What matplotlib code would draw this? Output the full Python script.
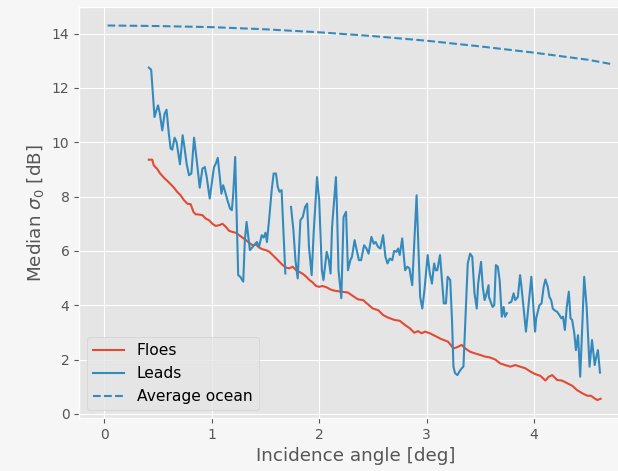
import numpy as np
from matplotlib import pyplot as plt

plt.style.use('ggplot')

# angles d'incidence [deg] et sigma0 median [dB]
floes_x = [0.414, 0.446, 0.46, 0.49, 0.52, 0.554, 0.586, 0.617, 0.648, 0.679,
           0.71, 0.741, 0.773, 0.804, 0.829, 0.85, 0.882, 0.913, 0.944, 0.975,
           1.006, 1.037, 1.07, 1.10, 1.13, 1.162, 1.193, 1.224, 1.255, 1.287,
           1.318, 1.349, 1.38, 1.41, 1.443, 1.474, 1.505, 1.536, 1.567, 1.60,
           1.63, 1.66, 1.69, 1.72, 1.754, 1.785, 1.816, 1.85, 1.88, 1.91,
           1.94, 1.97, 2.0, 2.03, 2.07, 2.106, 2.14, 2.206, 2.268, 2.315,
           2.36, 2.41, 2.455, 2.50, 2.55, 2.595, 2.64, 2.70, 2.75, 2.80,
           2.845, 2.885, 2.92, 2.953, 2.985, 3.03, 3.08, 3.134, 3.20, 3.25,
           3.28, 3.327, 3.36, 3.405, 3.45, 3.50, 3.545, 3.59, 3.64, 3.685,
           3.73, 3.78, 3.825, 3.87, 3.92, 3.966, 4.01, 4.06, 4.106, 4.137,
           4.17, 4.215, 4.26, 4.31, 4.355, 4.40, 4.45, 4.495, 4.53, 4.56,
           4.59, 4.62]
floes_y = [9.36, 9.36, 9.15, 9.03, 8.85, 8.70, 8.58, 8.46, 8.33, 8.17,
           8.05, 7.87, 7.74, 7.72, 7.44, 7.35, 7.34, 7.32, 7.19, 7.13,
           7.00, 6.92, 6.95, 7.00, 6.89, 6.74, 6.70, 6.67, 6.58, 6.49,
           6.40, 6.30, 6.21, 6.24, 6.12, 6.06, 6.03, 5.97, 5.85, 5.72,
           5.60, 5.48, 5.39, 5.36, 5.42, 5.29, 5.23, 5.15, 5.05, 4.93,
           4.84, 4.71, 4.68, 4.71, 4.66, 4.58, 4.54, 4.50, 4.47, 4.34,
           4.22, 4.19, 4.03, 3.88, 3.82, 3.64, 3.55, 3.46, 3.43, 3.27,
           3.15, 2.99, 3.05, 2.97, 3.03, 2.97, 2.87, 2.76, 2.66, 2.41,
           2.45, 2.54, 2.41, 2.29, 2.23, 2.17, 2.11, 2.08, 2.00, 1.86,
           1.80, 1.74, 1.80, 1.74, 1.68, 1.56, 1.47, 1.40, 1.23, 1.37,
           1.43, 1.25, 1.23, 1.13, 1.04, 0.88, 0.76, 0.67, 0.67, 0.58,
           0.51, 0.56]

nan = np.nan
leads_x = [0.414, 0.436, 0.467, 0.485, 0.50, 0.517, 0.539, 0.561, 0.579, 0.60,
           0.617, 0.632, 0.654, 0.673, 0.704, 0.729, 0.745, 0.766, 0.788, 0.81,
           0.835, 0.86, 0.888, 0.913, 0.935, 0.953, 0.981, 1.0, 1.021, 1.037,
           1.056, 1.075, 1.09, 1.106, 1.12, 1.146, 1.17, 1.187, 1.20, 1.218,
           1.246, 1.265, 1.293, 1.308, 1.324, 1.34, 1.355, 1.38, 1.40, 1.42,
           1.44, 1.465, 1.483, 1.50, 1.514, 1.536, 1.558, 1.576, 1.598, 1.614,
           1.63, 1.65, 1.668, 1.685, 1.71, 1.738, 1.76, 1.779, 1.80, 1.825,
           1.847, 1.869, 1.888, 1.905, 1.93, 1.95, 1.98, 2.0, 2.025, 2.04,
           2.07, 2.09, 2.106, 2.12, 2.156, 2.166, 2.18, 2.206, 2.227, 2.25,
           2.268, 2.29, 2.305, 2.33, 2.346, 2.37, 2.39, 2.418, 2.44, 2.46,
           2.486, 2.508, 2.526, 2.548, 2.57, 2.595, 2.617, 2.636, 2.657, 2.68,
           2.698, 2.72, 2.735, 2.75, 2.773, 2.80, 2.82, 2.84, 2.866, 2.907,
           2.94, 2.96, 2.98, 3.01, 3.03, 3.05, 3.07, 3.085, 3.10, 3.125,
           3.16, 3.18, 3.196, 3.22, 3.237, 3.25, 3.265, 3.287, 3.305, 3.327,
           3.343, 3.383, 3.405, 3.425, 3.446, 3.467, 3.48, 3.507, 3.523, 3.54,
           3.554, 3.577, 3.58, 3.614, 3.63, 3.645, 3.663, 3.68, 3.70, 3.717,
           3.73, 3.748, 3.76, 3.77, 3.79, 3.81, 3.825, 3.85, 3.87, 3.88,
           3.925, 3.975, 3.99, 4.01, 4.02, 4.05, 4.07, 4.09, 4.106, 4.128,
           4.143, 4.16, 4.175, 4.19, 4.215, 4.236, 4.255, 4.27, 4.287, 4.305,
           4.324, 4.34, 4.355, 4.375, 4.39, 4.41, 4.43, 4.45, 4.467, 4.49,
           4.517, 4.54, 4.565, 4.58, 4.595, 4.614]
leads_y = [12.75, 12.67, 10.93, 11.18, 11.36, 11.05, 10.44, 11.05, 11.20, 10.33,
           9.77, 9.73, 10.17, 10.00, 9.19, 10.26, 9.84, 9.21, 8.79, 8.85,
           10.17, 9.34, 8.33, 9.03, 9.09, 8.72, 7.93, 8.48, 9.09, 9.21,
           9.43, 8.72, 8.11, 8.42, 8.24, 7.87, 7.56, 7.50, 8.11, 9.46,
           5.11, 5.05, 4.87, 6.40, 7.07, 6.52, 6.03, 6.15, 6.24, 6.33,
           6.15, 6.58, 6.49, 6.67, 6.33, 7.25, 8.24, 8.85, 8.85, 8.36,
           8.18, 8.24, 6.65, 5.17, nan, 7.62, 6.77, 5.66, 4.99, 7.13,
           7.25, 7.62, 7.74, 6.15, 5.11, 6.77, 8.72, 7.87, 5.29, 4.93,
           5.97, 5.66, 5.17, 6.89, 8.72, 7.50, 5.29, 4.26, 7.25, 7.44,
           5.29, 5.66, 5.78, 6.40, 6.09, 5.66, 5.66, 6.21, 6.09, 5.90,
           6.52, 6.27, 6.33, 6.15, 6.09, 6.58, 5.78, 5.54, 5.72, 5.66,
           6.00, 5.97, 6.09, 5.85, 6.46, 5.29, 5.42, 5.36, 4.74, 8.05,
           4.31, 3.88, 4.56, 5.85, 5.17, 4.80, 5.54, 5.29, 5.29, 5.85,
           4.07, 4.07, 5.05, 4.93, 3.40, 1.74, 1.50, 1.43, 1.56, 1.68,
           1.74, 5.54, 5.90, 5.79, 4.44, 3.88, 4.80, 5.60, 4.68, 4.19,
           4.37, 4.74, 4.31, 3.94, 4.00, 5.48, 5.42, 4.93, 3.58, 3.94,
           3.58, 3.71, nan, 4.09, 4.13, 4.44, 4.19, 4.31, 5.11, 4.80,
           3.03, 5.05, 4.20, 3.03, 3.52, 4.00, 4.07, 4.68, 4.95, 4.68,
           4.31, 4.19, 3.88, 3.82, 3.76, 3.64, 3.52, 3.58, 3.09, 3.94,
           4.50, 3.52, 3.46, 2.97, 2.35, 2.90, 1.37, 3.30, 5.05, 3.94,
           1.74, 2.72, 1.80, 2.11, 2.35, 1.52]

ocean_x = [0.03, 0.5, 1.0, 1.5, 2.0, 2.5, 3.0, 3.5, 4.0, 4.5, 4.72]
ocean_y = [14.30, 14.28, 14.24, 14.16, 14.05, 13.91, 13.74, 13.53, 13.30, 13.04, 12.88]

fig = plt.figure(figsize=(6.18, 4.71), dpi=100, facecolor='#f6f6f6')
# l'axe depasse un peu a droite, comme sur la capture d'origine
ax = fig.add_axes([0.128, 0.1125, 0.896, 0.872])

ax.plot(floes_x, floes_y, color='C0', label='Floes')
ax.plot(leads_x, leads_y, color='C1', label='Leads')
ax.plot(ocean_x, ocean_y, '--', color='C1', label='Average ocean')

ax.set_xlim(-0.235, 4.92)
ax.set_ylim(-0.15, 14.97)
ax.set_xticks([0, 1, 2, 3, 4])
ax.set_yticks([0, 2, 4, 6, 8, 10, 12, 14])
ax.set_xlabel('Incidence angle [deg]', fontsize=13.2)
ax.set_ylabel(r'Median $\sigma_0$ [dB]', fontsize=13.2)
ax.legend(loc='lower left', fontsize=11.2)

plt.savefig('out.png', dpi=100, facecolor=fig.get_facecolor())
